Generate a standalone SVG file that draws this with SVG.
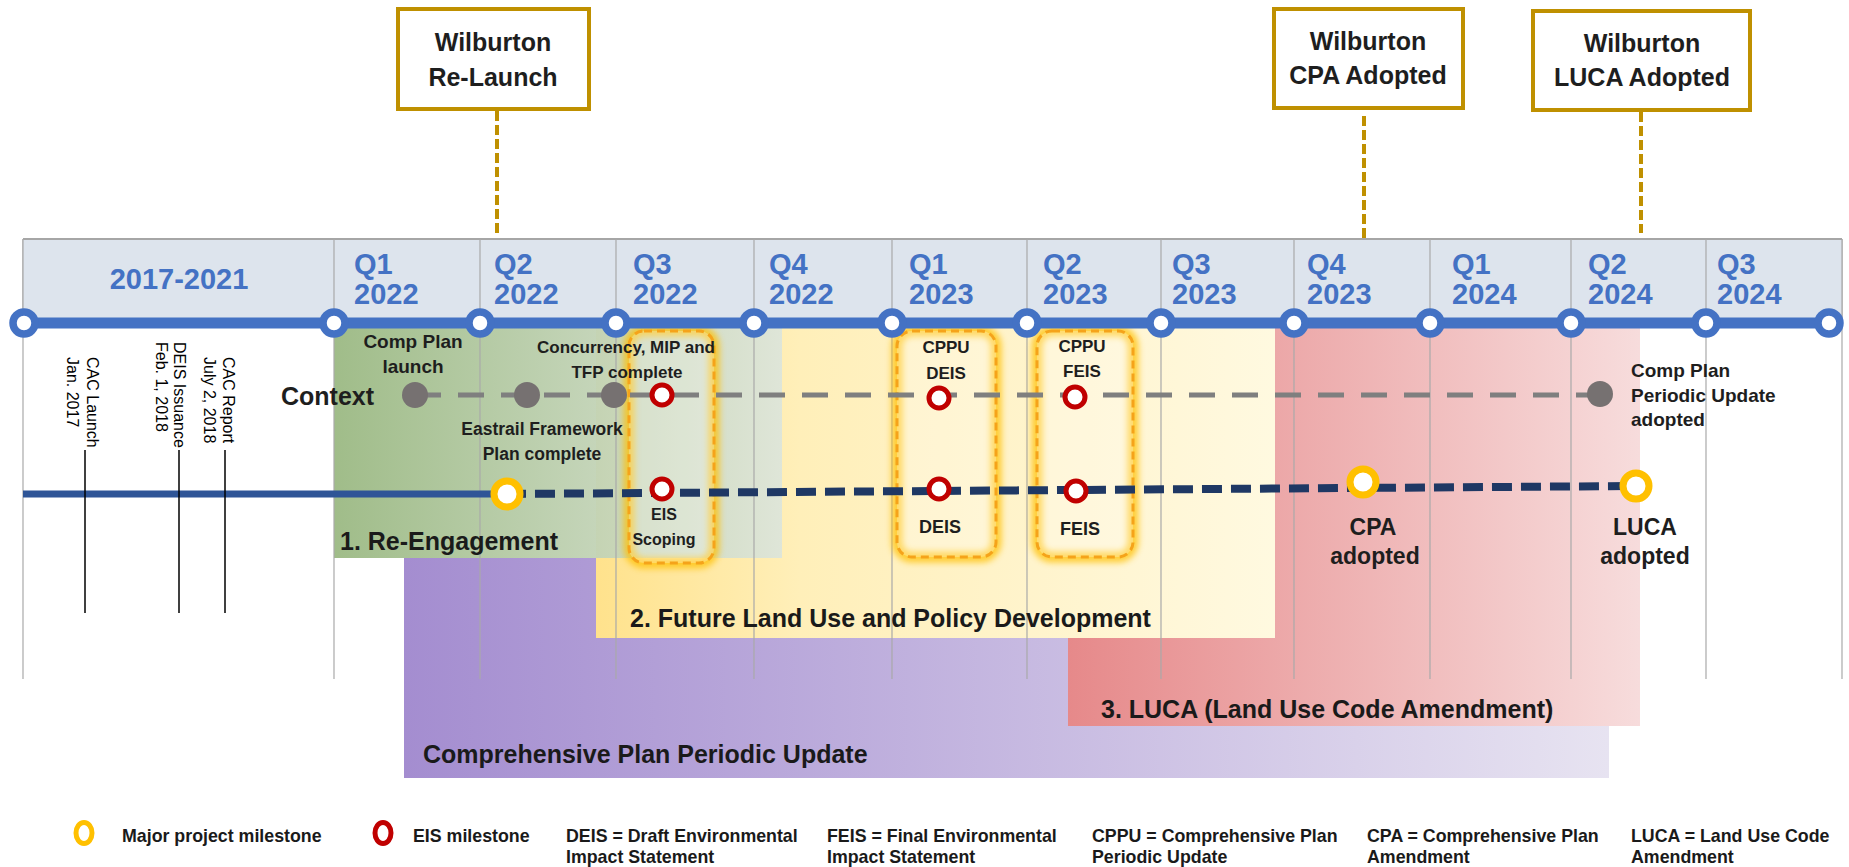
<svg xmlns="http://www.w3.org/2000/svg" width="1849" height="867" viewBox="0 0 1849 867">
<defs>
<linearGradient id="gGreen" x1="0" y1="0" x2="1" y2="0"><stop offset="0" stop-color="#9bb983"/><stop offset="0.5" stop-color="#bccfae"/><stop offset="1" stop-color="#dde5da"/></linearGradient>
<linearGradient id="gYellow" x1="0" y1="0" x2="1" y2="0"><stop offset="0" stop-color="#ffe28c"/><stop offset="0.3" stop-color="#ffefb9"/><stop offset="1" stop-color="#fff9e0"/></linearGradient>
<linearGradient id="gPurple" x1="0" y1="0" x2="1" y2="0"><stop offset="0" stop-color="#a48dd0"/><stop offset="1" stop-color="#e7e3f1"/></linearGradient>
<linearGradient id="gRed" x1="0" y1="0" x2="1" y2="0"><stop offset="0" stop-color="#e6898a"/><stop offset="1" stop-color="#f7dcdc"/></linearGradient>
<filter id="glow" x="-30%" y="-10%" width="160%" height="120%"><feGaussianBlur stdDeviation="3"/></filter>
<style>
.hdr{font-family:"Liberation Sans",Arial,sans-serif;font-weight:bold;font-size:29px;fill:#4472c4}
.lbl{font-family:"Liberation Sans",Arial,sans-serif;font-weight:bold;fill:#1e1e1e}
.grid{stroke:#a9a9a9;stroke-width:1.2}
.tl{fill:#fff;stroke:#4472c4;stroke-width:7.5}
.red{fill:#fff;stroke:#c00000;stroke-width:5}
.gold{fill:#fff;stroke:#ffc000;stroke-width:7}
.dot{fill:#767171}
.mbox{fill:#fff;stroke:#bf9000;stroke-width:4}
.lead{stroke:#bf9000;stroke-width:4;stroke-dasharray:10 4}
.note{font-family:"Liberation Sans",Arial,sans-serif;font-size:16px;fill:#000}
.leg{font-family:"Liberation Sans",Arial,sans-serif;font-weight:bold;font-size:17.8px;fill:#1a1a1a}
.glowrect{fill:none;stroke:#ffc000;stroke-width:11;opacity:0.75}
.dashrect{fill:#fff;fill-opacity:0.25;stroke:#f5a31a;stroke-width:3;stroke-dasharray:8 5}
.phase{font-family:"Liberation Sans",Arial,sans-serif;font-weight:bold;font-size:25px;fill:#1a1a1a}
</style>
</defs>
<rect width="1849" height="867" fill="#fff"/>

<g id="phases">
<rect id="phase-cppu" x="404" y="558" width="1205" height="220" fill="url(#gPurple)"/>
<rect id="phase-luca" x="1068" y="323" width="572" height="403" fill="url(#gRed)"/>
<rect id="phase-flu" x="596" y="323" width="679" height="315" fill="url(#gYellow)"/>
<rect id="phase-reeng" x="334" y="323" width="448" height="235" fill="url(#gGreen)" opacity="0.95"/>
</g>

<g id="grid">
<line class="grid" x1="23" y1="239" x2="23" y2="679"/>
<line class="grid" x1="334" y1="239" x2="334" y2="679"/>
<line class="grid" x1="480" y1="239" x2="480" y2="679"/>
<line class="grid" x1="616" y1="239" x2="616" y2="679"/>
<line class="grid" x1="754" y1="239" x2="754" y2="679"/>
<line class="grid" x1="892" y1="239" x2="892" y2="679"/>
<line class="grid" x1="1027" y1="239" x2="1027" y2="679"/>
<line class="grid" x1="1161" y1="239" x2="1161" y2="679"/>
<line class="grid" x1="1294" y1="239" x2="1294" y2="679"/>
<line class="grid" x1="1430" y1="239" x2="1430" y2="679"/>
<line class="grid" x1="1571" y1="239" x2="1571" y2="679"/>
<line class="grid" x1="1706" y1="239" x2="1706" y2="679"/>
<line class="grid" x1="1842" y1="239" x2="1842" y2="679"/>
</g>

<g id="header">
<rect x="23" y="239" width="1819" height="84" fill="#dde4ed"/>
<line x1="23" y1="239" x2="1842" y2="239" stroke="#a6a6a6" stroke-width="2"/>
<g class="grid">
<line x1="334" y1="239" x2="334" y2="323"/><line x1="480" y1="239" x2="480" y2="323"/><line x1="616" y1="239" x2="616" y2="323"/><line x1="754" y1="239" x2="754" y2="323"/><line x1="892" y1="239" x2="892" y2="323"/><line x1="1027" y1="239" x2="1027" y2="323"/><line x1="1161" y1="239" x2="1161" y2="323"/><line x1="1294" y1="239" x2="1294" y2="323"/><line x1="1430" y1="239" x2="1430" y2="323"/><line x1="1571" y1="239" x2="1571" y2="323"/><line x1="1706" y1="239" x2="1706" y2="323"/><line x1="23" y1="239" x2="23" y2="323"/><line x1="1842" y1="239" x2="1842" y2="323"/>
</g>
<text class="hdr" x="179" y="289" text-anchor="middle">2017-2021</text>
<text class="hdr" x="354" y="274">Q1<tspan x="354" y="304">2022</tspan></text>
<text class="hdr" x="494" y="274">Q2<tspan x="494" y="304">2022</tspan></text>
<text class="hdr" x="633" y="274">Q3<tspan x="633" y="304">2022</tspan></text>
<text class="hdr" x="769" y="274">Q4<tspan x="769" y="304">2022</tspan></text>
<text class="hdr" x="909" y="274">Q1<tspan x="909" y="304">2023</tspan></text>
<text class="hdr" x="1043" y="274">Q2<tspan x="1043" y="304">2023</tspan></text>
<text class="hdr" x="1172" y="274">Q3<tspan x="1172" y="304">2023</tspan></text>
<text class="hdr" x="1307" y="274">Q4<tspan x="1307" y="304">2023</tspan></text>
<text class="hdr" x="1452" y="274">Q1<tspan x="1452" y="304">2024</tspan></text>
<text class="hdr" x="1588" y="274">Q2<tspan x="1588" y="304">2024</tspan></text>
<text class="hdr" x="1717" y="274">Q3<tspan x="1717" y="304">2024</tspan></text>
</g>

<g id="eis-boxes">
<rect class="glowrect" x="629" y="331" width="85" height="232" rx="15" filter="url(#glow)"/>
<rect class="dashrect" x="629" y="331" width="85" height="232" rx="15"/>
<rect class="glowrect" x="897" y="331" width="99" height="226" rx="15" filter="url(#glow)"/>
<rect class="dashrect" x="897" y="331" width="99" height="226" rx="15"/>
<rect class="glowrect" x="1037" y="331" width="96" height="226" rx="15" filter="url(#glow)"/>
<rect class="dashrect" x="1037" y="331" width="96" height="226" rx="15"/>
</g>

<g id="connectors">
<line x1="497" y1="111" x2="497" y2="233" class="lead"/>
<line x1="1364" y1="116" x2="1364" y2="239" class="lead"/>
<line x1="1641" y1="112" x2="1641" y2="233" class="lead"/>
<line x1="24" y1="323" x2="1829" y2="323" stroke="#4472c4" stroke-width="11"/>
<line x1="415" y1="395" x2="1600" y2="395" stroke="#7f7f7f" stroke-width="5" stroke-dasharray="26 17"/>
<line x1="23" y1="494" x2="506" y2="494" stroke="#2f5597" stroke-width="7"/>
<line x1="506" y1="494" x2="1636" y2="486" stroke="#1f3864" stroke-width="8" stroke-dasharray="20 9"/>
<line x1="85" y1="450" x2="85" y2="613" stroke="#000" stroke-width="1.5"/>
<line x1="179" y1="450" x2="179" y2="613" stroke="#000" stroke-width="1.5"/>
<line x1="225" y1="450" x2="225" y2="613" stroke="#000" stroke-width="1.5"/>
</g>

<g id="timeline-ticks">
<circle class="tl" cx="24" cy="323" r="11"/><circle class="tl" cx="334" cy="323" r="11"/><circle class="tl" cx="480" cy="323" r="11"/><circle class="tl" cx="616" cy="323" r="11"/><circle class="tl" cx="754" cy="323" r="11"/><circle class="tl" cx="892" cy="323" r="11"/><circle class="tl" cx="1027" cy="323" r="11"/><circle class="tl" cx="1161" cy="323" r="11"/><circle class="tl" cx="1294" cy="323" r="11"/><circle class="tl" cx="1430" cy="323" r="11"/><circle class="tl" cx="1571" cy="323" r="11"/><circle class="tl" cx="1706" cy="323" r="11"/><circle class="tl" cx="1829" cy="323" r="11"/>
</g>

<g id="box-relaunch"><rect class="mbox" x="398" y="9" width="191" height="100"/><text class="lbl" x="493" y="51" text-anchor="middle" font-size="25">Wilburton</text><text class="lbl" x="493" y="86" text-anchor="middle" font-size="25">Re-Launch</text></g>
<g id="box-cpa"><rect class="mbox" x="1274" y="9" width="189" height="99"/><text class="lbl" x="1368" y="50" text-anchor="middle" font-size="25">Wilburton</text><text class="lbl" x="1368" y="84" text-anchor="middle" font-size="25">CPA Adopted</text></g>
<g id="box-luca"><rect class="mbox" x="1533" y="11" width="217" height="99"/><text class="lbl" x="1642" y="52" text-anchor="middle" font-size="25">Wilburton</text><text class="lbl" x="1642" y="86" text-anchor="middle" font-size="25">LUCA Adopted</text></g>

<g id="context">
<text class="lbl" x="281" y="405" font-size="25">Context</text>
<circle class="dot" cx="415" cy="395" r="13"/>
<text class="lbl" x="413" y="348" text-anchor="middle" font-size="19">Comp Plan</text><text class="lbl" x="413" y="373" text-anchor="middle" font-size="19">launch</text>
<circle class="dot" cx="527" cy="395" r="13"/>
<text class="lbl" x="542" y="435" text-anchor="middle" font-size="17.5">Eastrail  Framework</text><text class="lbl" x="542" y="460" text-anchor="middle" font-size="17.5">Plan complete</text>
<circle class="dot" cx="614" cy="395" r="13"/>
<text class="lbl" x="626" y="353" text-anchor="middle" font-size="17">Concurrency, MIP  and</text><text class="lbl" x="627" y="378" text-anchor="middle" font-size="17">TFP complete</text>
<circle class="dot" cx="1600" cy="394" r="13"/>
<text class="lbl" x="1631" y="377" font-size="19">Comp Plan</text><text class="lbl" x="1631" y="402" font-size="19">Periodic Update</text><text class="lbl" x="1631" y="426" font-size="19">adopted</text>
</g>

<g id="eis-scoping">
<circle class="red" cx="662" cy="395" r="10"/><circle class="red" cx="662" cy="489" r="10"/>
<text class="lbl" x="664" y="520" text-anchor="middle" font-size="16">EIS</text><text class="lbl" x="664" y="545" text-anchor="middle" font-size="16">Scoping</text>
</g>
<g id="cppu-deis">
<circle class="red" cx="939" cy="398" r="10"/><circle class="red" cx="939" cy="489" r="10"/>
<text class="lbl" x="946" y="353" text-anchor="middle" font-size="17">CPPU</text><text class="lbl" x="946" y="379" text-anchor="middle" font-size="17">DEIS</text>
<text class="lbl" x="940" y="533" text-anchor="middle" font-size="18">DEIS</text>
</g>
<g id="cppu-feis">
<circle class="red" cx="1075" cy="397" r="10"/><circle class="red" cx="1076" cy="491" r="10"/>
<text class="lbl" x="1082" y="352" text-anchor="middle" font-size="17">CPPU</text><text class="lbl" x="1082" y="377" text-anchor="middle" font-size="17">FEIS</text>
<text class="lbl" x="1080" y="535" text-anchor="middle" font-size="18">FEIS</text>
</g>

<g id="milestones">
<circle class="gold" cx="507" cy="494" r="13"/>
<circle class="gold" cx="1363" cy="482" r="13"/>
<text class="lbl" x="1373" y="535" text-anchor="middle" font-size="23">CPA</text><text class="lbl" x="1375" y="564" text-anchor="middle" font-size="23">adopted</text>
<circle class="gold" cx="1636" cy="486" r="13"/>
<text class="lbl" x="1645" y="535" text-anchor="middle" font-size="23">LUCA</text><text class="lbl" x="1645" y="564" text-anchor="middle" font-size="23">adopted</text>
</g>

<g id="history-notes">
<text class="note" transform="translate(87,357) rotate(90)">CAC Launch</text>
<text class="note" transform="translate(67,357) rotate(90)">Jan. 2017</text>
<text class="note" transform="translate(174,342) rotate(90)">DEIS Issuance</text>
<text class="note" transform="translate(156,342) rotate(90)">Feb. 1, 2018</text>
<text class="note" transform="translate(223,357) rotate(90)">CAC Report</text>
<text class="note" transform="translate(204,357) rotate(90)">July 2, 2018</text>
</g>

<g id="phase-labels">
<text class="phase" x="340" y="550">1. Re-Engagement</text>
<text class="phase" x="630" y="627">2. Future Land Use and Policy Development</text>
<text class="phase" x="1101" y="718">3. LUCA (Land Use Code Amendment)</text>
<text class="phase" x="423" y="763">Comprehensive Plan Periodic Update</text>
</g>

<g id="legend">
<ellipse cx="84" cy="833" rx="8" ry="10.5" fill="#fff" stroke="#ffc000" stroke-width="5"/>
<text class="leg" x="122" y="842">Major project milestone</text>
<ellipse cx="383" cy="833" rx="8" ry="10.5" fill="#fff" stroke="#c00000" stroke-width="5"/>
<text class="leg" x="413" y="842">EIS milestone</text>
<text class="leg" x="566" y="842">DEIS = Draft Environmental</text><text class="leg" x="566" y="863">Impact Statement</text>
<text class="leg" x="827" y="842">FEIS = Final Environmental</text><text class="leg" x="827" y="863">Impact Statement</text>
<text class="leg" x="1092" y="842">CPPU = Comprehensive Plan</text><text class="leg" x="1092" y="863">Periodic Update</text>
<text class="leg" x="1367" y="842">CPA  = Comprehensive Plan</text><text class="leg" x="1367" y="863">Amendment</text>
<text class="leg" x="1631" y="842">LUCA = Land Use Code</text><text class="leg" x="1631" y="863">Amendment</text>
</g>
</svg>
